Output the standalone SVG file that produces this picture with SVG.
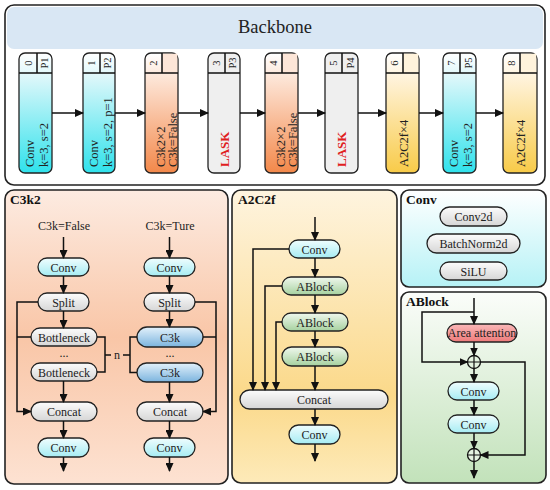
<svg xmlns="http://www.w3.org/2000/svg" width="550" height="490" viewBox="0 0 550 490">
<defs>
<marker id="ah" markerUnits="userSpaceOnUse" markerWidth="9" markerHeight="8" refX="8" refY="4" orient="auto"><path d="M0,0 L9,4 L0,8 z" fill="#111"/></marker>
<linearGradient id="gConvB" x1="0" y1="0" x2="0" y2="1"><stop offset="0" stop-color="#ffffff"/><stop offset="0.2" stop-color="#ddf7fa"/><stop offset="1" stop-color="#2fe2ec"/></linearGradient>
<linearGradient id="gC3B" x1="0" y1="0" x2="0" y2="1"><stop offset="0" stop-color="#ffffff"/><stop offset="0.2" stop-color="#fde6d8"/><stop offset="1" stop-color="#f3884a"/></linearGradient>
<linearGradient id="gA2B" x1="0" y1="0" x2="0" y2="1"><stop offset="0" stop-color="#ffffff"/><stop offset="0.2" stop-color="#fff3dc"/><stop offset="1" stop-color="#f8cb48"/></linearGradient>
<linearGradient id="gPC3" x1="0" y1="0" x2="0" y2="1"><stop offset="0" stop-color="#fdebe1"/><stop offset="0.5" stop-color="#f9c6a7"/><stop offset="1" stop-color="#fde2d2"/></linearGradient>
<linearGradient id="gPA2" x1="0" y1="0" x2="0" y2="1"><stop offset="0" stop-color="#fef4df"/><stop offset="0.7" stop-color="#fbd98a"/><stop offset="1" stop-color="#fdeab9"/></linearGradient>
<linearGradient id="gPConv" x1="0" y1="0" x2="0" y2="1"><stop offset="0" stop-color="#ffffff"/><stop offset="1" stop-color="#b6f2f6"/></linearGradient>
<linearGradient id="gPAB" x1="0" y1="0" x2="0" y2="1"><stop offset="0" stop-color="#fbfdfa"/><stop offset="1" stop-color="#c2e2ba"/></linearGradient>
<linearGradient id="pCyan" x1="0" y1="0" x2="0" y2="1"><stop offset="0" stop-color="#f0fdfe"/><stop offset="1" stop-color="#a6ecf3"/></linearGradient>
<linearGradient id="pGray" x1="0" y1="0" x2="0" y2="1"><stop offset="0" stop-color="#fcfcfc"/><stop offset="1" stop-color="#d6d6d6"/></linearGradient>
<linearGradient id="pBlue" x1="0" y1="0" x2="0" y2="1"><stop offset="0" stop-color="#e3f1fb"/><stop offset="1" stop-color="#7bb4de"/></linearGradient>
<linearGradient id="pGreen" x1="0" y1="0" x2="0" y2="1"><stop offset="0" stop-color="#f0f8ee"/><stop offset="1" stop-color="#a6d19f"/></linearGradient>
<linearGradient id="pRed" x1="0" y1="0" x2="0" y2="1"><stop offset="0" stop-color="#f9b8b8"/><stop offset="1" stop-color="#ee7b7b"/></linearGradient>
</defs>
<style>
text{font-family:"Liberation Serif","Times New Roman",serif;fill:#222}
.panel{stroke:#222;stroke-width:1.6}
.blk{stroke:#222;stroke-width:1.3}
.pill{stroke:#222;stroke-width:1.3}
.lbl{font-size:12px;text-anchor:middle}
.ttl{font-size:13.5px;font-weight:bold;fill:#111}
.bt{font-size:12.5px}
.hd{font-size:10.5px;text-anchor:middle;dominant-baseline:central}
.lask{font-size:13px;font-weight:bold;fill:#e0201e}
.ln{fill:none;stroke:#111;stroke-width:1.5}
.ar{fill:none;stroke:#111;stroke-width:1.5;marker-end:url(#ah)}
</style>

<g id="backbone">
<rect x="5" y="5" width="540" height="180" rx="9" fill="#fff" class="panel"/>
<rect x="7" y="7" width="536" height="42" rx="7" fill="#d9e7f4"/>
<text x="275" y="33" font-size="18.5" text-anchor="middle">Backbone</text>
</g>

<g id="b0">
<rect x="19" y="53" width="33" height="120" rx="6" fill="url(#gConvB)" class="blk"/>
<path d="M19,73 H52 M37,53 V73" class="ln" stroke-width="1.2"/>
<text class="hd" transform="translate(28,63) rotate(-90)">0</text>
<text class="hd" transform="translate(44.5,63) rotate(-90)">P1</text>
<text class="bt" transform="translate(34,167) rotate(-90)">Conv</text>
<text class="bt" transform="translate(48,167) rotate(-90)">k=3, s=2</text>
</g>
<g id="b1">
<rect x="83" y="53" width="32" height="120" rx="6" fill="url(#gConvB)" class="blk"/>
<path d="M83,73 H115 M100,53 V73" class="ln" stroke-width="1.2"/>
<text class="hd" transform="translate(91.5,63) rotate(-90)">1</text>
<text class="hd" transform="translate(107.5,63) rotate(-90)">P2</text>
<text class="bt" transform="translate(98,167) rotate(-90)">Conv</text>
<text class="bt" transform="translate(112,167) rotate(-90)">k=3, s=2, p=1</text>
</g>
<g id="b2">
<rect x="145" y="53" width="33" height="120" rx="6" fill="url(#gC3B)" class="blk"/>
<rect x="162" y="53.7" width="15.3" height="19.3" fill="#fde6d8"/>
<path d="M145,73 H178 M162,53 V73" class="ln" stroke-width="1.2"/>
<text class="hd" transform="translate(153.5,63) rotate(-90)">2</text>
<text class="bt" transform="translate(165,167) rotate(-90)">C3k2×2</text>
<text class="bt" transform="translate(177,167) rotate(-90)" font-size="12">C3k=False</text>
</g>
<g id="b3">
<rect x="208" y="53" width="32" height="120" rx="6" fill="#efefef" class="blk"/>
<path d="M208,73 H240 M225,53 V73" class="ln" stroke-width="1.2"/>
<text class="hd" transform="translate(216.5,63) rotate(-90)">3</text>
<text class="hd" transform="translate(232.5,63) rotate(-90)">P3</text>
<text class="lask" transform="translate(229,167) rotate(-90)">LASK</text>
</g>
<g id="b4">
<rect x="265" y="53" width="33" height="120" rx="6" fill="url(#gC3B)" class="blk"/>
<rect x="282" y="53.7" width="15.3" height="19.3" fill="#fde6d8"/>
<path d="M265,73 H298 M282,53 V73" class="ln" stroke-width="1.2"/>
<text class="hd" transform="translate(273.5,63) rotate(-90)">4</text>
<text class="bt" transform="translate(285,167) rotate(-90)">C3k2×2</text>
<text class="bt" transform="translate(297,167) rotate(-90)" font-size="12">C3k=False</text>
</g>
<g id="b5">
<rect x="325" y="53" width="33" height="120" rx="6" fill="#efefef" class="blk"/>
<path d="M325,73 H358 M342,53 V73" class="ln" stroke-width="1.2"/>
<text class="hd" transform="translate(333.5,63) rotate(-90)">5</text>
<text class="hd" transform="translate(350,63) rotate(-90)">P4</text>
<text class="lask" transform="translate(346,167) rotate(-90)">LASK</text>
</g>
<g id="b6">
<rect x="386" y="53" width="33" height="120" rx="6" fill="url(#gA2B)" class="blk"/>
<rect x="403" y="53.7" width="15.3" height="19.3" fill="#fff3dc"/>
<path d="M386,73 H419 M403,53 V73" class="ln" stroke-width="1.2"/>
<text class="hd" transform="translate(394.5,63) rotate(-90)">6</text>
<text class="bt" font-size="13" transform="translate(408,167) rotate(-90)">A2C2f×4</text>
</g>
<g id="b7">
<rect x="443" y="53" width="33" height="120" rx="6" fill="url(#gConvB)" class="blk"/>
<path d="M443,73 H476 M460,53 V73" class="ln" stroke-width="1.2"/>
<text class="hd" transform="translate(451.5,63) rotate(-90)">7</text>
<text class="hd" transform="translate(468,63) rotate(-90)">P5</text>
<text class="bt" transform="translate(458,167) rotate(-90)">Conv</text>
<text class="bt" transform="translate(472,167) rotate(-90)">k=3, s=2</text>
</g>
<g id="b8">
<rect x="503" y="53" width="34" height="120" rx="6" fill="url(#gA2B)" class="blk"/>
<rect x="520" y="53.7" width="16.3" height="19.3" fill="#fff3dc"/>
<path d="M503,73 H537 M520,53 V73" class="ln" stroke-width="1.2"/>
<text class="hd" transform="translate(511.5,63) rotate(-90)">8</text>
<text class="bt" font-size="13" transform="translate(525,167) rotate(-90)">A2C2f×4</text>
</g>

<g id="c3k2">
<rect x="5" y="190" width="223" height="294" rx="9" fill="url(#gPC3)" class="panel"/>
<text class="ttl" x="10" y="204">C3k2</text>
<text class="lbl" x="64" y="230">C3k=False</text>
<text class="lbl" x="170" y="230">C3k=Ture</text>
<rect x="38" y="258" width="51" height="18" rx="9" fill="url(#pCyan)" class="pill"/><text class="lbl" x="63.5" y="271.5">Conv</text>
<rect x="38" y="293" width="51" height="18" rx="9" fill="url(#pGray)" class="pill"/><text class="lbl" x="63.5" y="306.5">Split</text>
<rect x="31" y="328" width="66" height="18" rx="9" fill="url(#pGray)" class="pill"/><text class="lbl" x="64" y="341.5">Bottleneck</text>
<text class="lbl" x="64" y="357">...</text>
<rect x="31" y="363" width="66" height="18" rx="9" fill="url(#pGray)" class="pill"/><text class="lbl" x="64" y="376.5">Bottleneck</text>
<rect x="31" y="402" width="66" height="19" rx="9.5" fill="url(#pGray)" class="pill"/><text class="lbl" x="64" y="416">Concat</text>
<rect x="38" y="438" width="51" height="19" rx="9.5" fill="url(#pCyan)" class="pill"/><text class="lbl" x="63.5" y="452">Conv</text>
<text class="lbl" x="117" y="359">n</text>
<rect x="144" y="258" width="51" height="18" rx="9" fill="url(#pCyan)" class="pill"/><text class="lbl" x="169.5" y="271.5">Conv</text>
<rect x="144" y="293" width="51" height="18" rx="9" fill="url(#pGray)" class="pill"/><text class="lbl" x="169.5" y="306.5">Split</text>
<rect x="137" y="327" width="66" height="20" rx="10" fill="url(#pBlue)" class="pill"/><text class="lbl" x="170" y="341.5">C3k</text>
<text class="lbl" x="170" y="357">...</text>
<rect x="137" y="363" width="66" height="19" rx="9.5" fill="url(#pBlue)" class="pill"/><text class="lbl" x="170" y="377">C3k</text>
<rect x="137" y="402" width="66" height="19" rx="9.5" fill="url(#pGray)" class="pill"/><text class="lbl" x="170" y="416">Concat</text>
<rect x="144" y="438" width="51" height="19" rx="9.5" fill="url(#pCyan)" class="pill"/><text class="lbl" x="169.5" y="452">Conv</text>
</g>

<g id="a2c2f">
<rect x="232" y="190" width="165" height="293" rx="9" fill="url(#gPA2)" class="panel"/>
<text class="ttl" x="238" y="204">A2C2f</text>
<rect x="289" y="240" width="51" height="18" rx="9" fill="url(#pCyan)" class="pill"/><text class="lbl" x="314.5" y="253.5">Conv</text>
<rect x="282" y="277" width="66" height="18" rx="9" fill="url(#pGreen)" class="pill"/><text class="lbl" x="315" y="290.5">ABlock</text>
<rect x="282" y="313" width="66" height="18" rx="9" fill="url(#pGreen)" class="pill"/><text class="lbl" x="315" y="326.5">ABlock</text>
<rect x="282" y="347" width="66" height="19" rx="9.5" fill="url(#pGreen)" class="pill"/><text class="lbl" x="315" y="361">ABlock</text>
<rect x="240" y="390" width="148" height="19" rx="9.5" fill="url(#pGray)" class="pill"/><text class="lbl" x="314" y="404">Concat</text>
<rect x="289" y="425" width="51" height="19" rx="9.5" fill="url(#pCyan)" class="pill"/><text class="lbl" x="314.5" y="439">Conv</text>
</g>

<g id="convpanel">
<rect x="401" y="190" width="145" height="97" rx="8" fill="url(#gPConv)" class="panel"/>
<text class="ttl" x="406" y="204">Conv</text>
<rect x="440" y="207" width="67" height="19" rx="9.5" fill="url(#pGray)" class="pill"/><text class="lbl" x="473.5" y="221">Conv2d</text>
<rect x="427" y="234" width="93" height="19" rx="9.5" fill="url(#pGray)" class="pill"/><text class="lbl" x="473.5" y="248">BatchNorm2d</text>
<rect x="440" y="262" width="67" height="18" rx="9" fill="url(#pGray)" class="pill"/><text class="lbl" x="473.5" y="275.5">SiLU</text>
</g>

<g id="ablock">
<rect x="401" y="292" width="145" height="191" rx="8" fill="url(#gPAB)" class="panel"/>
<text class="ttl" x="406" y="306">ABlock</text>
<rect x="447" y="324" width="70" height="18" rx="9" fill="url(#pRed)" class="pill"/><text class="lbl" x="482" y="337" font-size="10.5">Area attention</text>
<rect x="448" y="382" width="51" height="18" rx="9" fill="url(#pCyan)" class="pill"/><text class="lbl" x="473.5" y="395.5">Conv</text>
<rect x="448" y="415" width="51" height="18" rx="9" fill="url(#pCyan)" class="pill"/><text class="lbl" x="473.5" y="428.5">Conv</text>
<circle cx="474" cy="362" r="6.5" fill="#e4f3e0" stroke="#111" stroke-width="1.3"/>
<path d="M468,362 H480 M474,356 V368" stroke="#111" stroke-width="1.2"/>
<circle cx="474" cy="455" r="6.5" fill="#e4f3e0" stroke="#111" stroke-width="1.3"/>
<path d="M468,455 H480 M474,449 V461" stroke="#111" stroke-width="1.2"/>
</g>

<g id="connectors">
<path class="ar" d="M52,113 H83"/>
<path class="ar" d="M115,113 H145"/>
<path class="ar" d="M178,113 H208"/>
<path class="ar" d="M240,113 H265"/>
<path class="ar" d="M298,113 H325"/>
<path class="ar" d="M358,113 H386"/>
<path class="ar" d="M419,113 H443"/>
<path class="ar" d="M476,113 H503"/>
<path class="ar" d="M63.5,237 V258"/>
<path class="ar" d="M63.5,276 V293"/>
<path class="ar" d="M63.5,311 V328"/>
<path class="ar" d="M63.5,381 V402"/>
<path class="ar" d="M63.5,421 V438"/>
<path class="ar" d="M63.5,457 V471"/>
<path class="ar" d="M38,302 H17 V411.5 H31"/>
<path class="ln" d="M17,337 H31"/>
<path class="ln" d="M97,337 H105 V372 H97 M105,355 H111"/>
<path class="ln" d="M123,355 H130 M137,337 H130 V372.5 H137"/>
<path class="ar" d="M169.5,237 V258"/>
<path class="ar" d="M169.5,276 V293"/>
<path class="ar" d="M169.5,311 V327"/>
<path class="ar" d="M169.5,382 V402"/>
<path class="ar" d="M169.5,421 V438"/>
<path class="ar" d="M169.5,457 V471"/>
<path class="ar" d="M195,302 H216 V411.5 H203"/>
<path class="ln" d="M203,337 H216"/>
<path class="ar" d="M315,217 V240"/>
<path class="ar" d="M315,258 V277"/>
<path class="ar" d="M315,295 V313"/>
<path class="ar" d="M315,331 V347"/>
<path class="ar" d="M315,366 V390"/>
<path class="ar" d="M315,409 V425"/>
<path class="ar" d="M315,444 V461"/>
<path class="ar" d="M289,249 H253 V390"/>
<path class="ar" d="M282,286 H265 V390"/>
<path class="ar" d="M282,322 H276 V390"/>
<path class="ar" d="M474,298 V324"/>
<path class="ar" d="M474,312 H422 V362 H467.5"/>
<path class="ar" d="M474,342 V355.5"/>
<path class="ar" d="M480.5,362 H525 V455 H480.5"/>
<path class="ar" d="M474,368.5 V382"/>
<path class="ar" d="M474,400 V415"/>
<path class="ar" d="M474,433 V448.5"/>
<path class="ar" d="M474,461.5 V478"/>
</g>
</svg>
